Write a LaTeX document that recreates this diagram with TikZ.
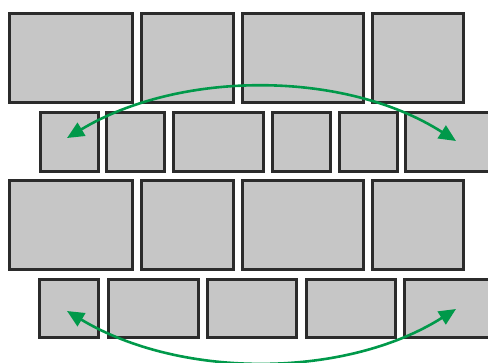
\documentclass[tikz,border=0pt]{standalone}
\usetikzlibrary{arrows.meta}
\definecolor{boxfill}{HTML}{C6C6C6}
\definecolor{boxline}{HTML}{2B2B2B}
\definecolor{arrowgreen}{HTML}{00994A}
\newcommand\brick[5]{\node[box, minimum width=#4pt, minimum height=#5pt] (#1) at (#2,#3) {};}
\begin{document}
\begin{tikzpicture}[x=1pt,y=-1pt,
  box/.style={draw=boxline, fill=boxfill, line width=2.6pt, inner sep=0pt, outer sep=0pt, anchor=north west},
  swaparrow/.style={draw=arrowgreen, line width=2.6pt, {Triangle[length=17pt,width=15pt]}-{Triangle[length=17pt,width=15pt]}}]
\clip (0,0) rectangle (488,362);
% row 1
\brick{a1}{9.5}{13.5}{123}{89}
\brick{a2}{141.5}{13.5}{92}{89}
\brick{a3}{242.5}{13.5}{121}{89}
\brick{a4}{372.5}{13.5}{91}{89}
% row 2
\brick{b1}{40.5}{112.5}{58}{59}
\brick{b2}{106.5}{112.5}{58}{59}
\brick{b3}{173.5}{112.5}{90}{59}
\brick{b4}{272.5}{112.5}{58}{59}
\brick{b5}{339.5}{112.5}{58}{59}
\brick{b6}{405.5}{112.5}{90}{59}
% row 3
\brick{c1}{9.5}{180.5}{123}{89}
\brick{c2}{141.5}{180.5}{92}{89}
\brick{c3}{242.5}{180.5}{121}{89}
\brick{c4}{372.5}{180.5}{91}{89}
% row 4
\brick{d1}{39.5}{279.5}{59}{58}
\brick{d2}{108.5}{279.5}{90}{58}
\brick{d3}{207.5}{279.5}{89}{58}
\brick{d4}{306.5}{279.5}{89}{58}
\brick{d5}{404.5}{279.5}{90}{58}
% arrow ends
\coordinate (tl) at (67,138);
\coordinate (tr) at (456,141);
\coordinate (bl) at (67,311);
\coordinate (br) at (456,309);
\draw[swaparrow] (tl) .. controls (180,70) and (345,70) .. (tr);
\draw[swaparrow] (bl) .. controls (180,379) and (345,379) .. (br);
\end{tikzpicture}
\end{document}
